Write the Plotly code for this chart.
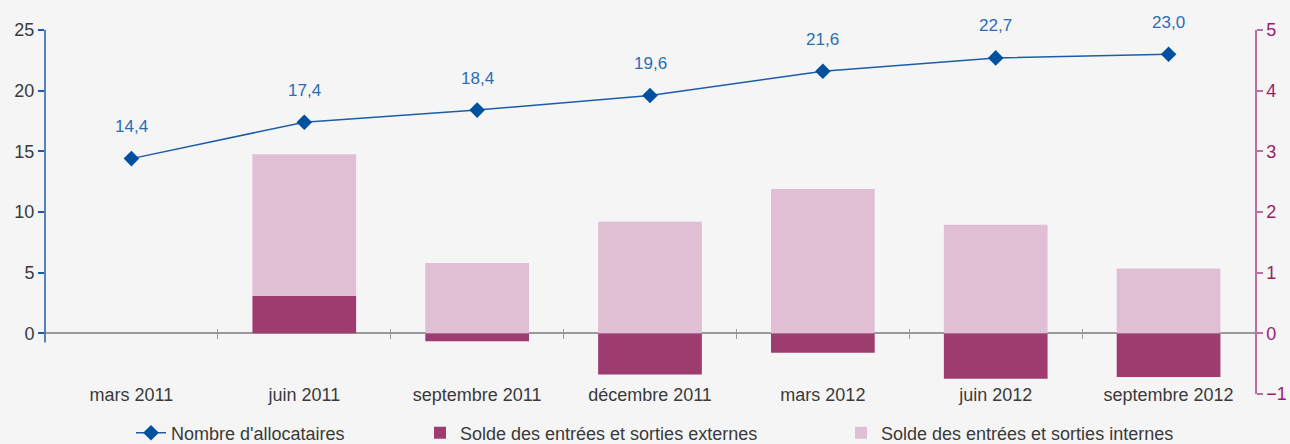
import plotly.graph_objects as go

categories = ["mars 2011", "juin 2011", "septembre 2011", "décembre 2011",
              "mars 2012", "juin 2012", "septembre 2012"]
allocataires = [14.4, 17.4, 18.4, 19.6, 21.6, 22.7, 23.0]
solde_externes = [None, 0.62, -0.13, -0.68, -0.32, -0.75, -0.72]
solde_internes = [None, 2.33, 1.16, 1.84, 2.38, 1.79, 1.07]
left_ticks = [0, 5, 10, 15, 20, 25]
right_ticks = [-1, 0, 1, 2, 3, 4, 5]

FONT = "Liberation Sans, Arial, sans-serif"
TXT = "#3a3a3a"
BLUE = "#1c5ca8"
LBLUE = "#2a6db5"
DARK = "#9e3b6f"
LIGHT = "#e0bfd4"
PURP = "#9b1d6b"
AXP = "#b870a0"
BG = "#f5f5f5"

idx = list(range(len(categories)))
boundaries = [i + 0.5 for i in idx[:-1]]

fig = go.Figure()
fig.add_trace(go.Bar(x=idx, y=solde_externes, name="Solde des entrées et sorties externes",
                     marker=dict(color=DARK, line=dict(width=0)), width=0.6,
                     yaxis="y", legend="legend2"))
fig.add_trace(go.Bar(x=idx, y=solde_internes, name="Solde des entrées et sorties internes",
                     marker=dict(color=LIGHT, line=dict(width=0)), width=0.6,
                     yaxis="y", legend="legend3"))
# invisible helper so that the category-boundary tick axis is drawn
fig.add_trace(go.Scatter(x=idx, y=[0] * len(idx), xaxis="x2", yaxis="y", mode="lines",
                         line=dict(width=0, color="rgba(0,0,0,0)"), opacity=0,
                         showlegend=False, hoverinfo="skip"))
fig.add_trace(go.Scatter(x=idx, y=allocataires, name="Nombre d'allocataires",
                         mode="lines+markers", yaxis="y2", legend="legend",
                         line=dict(color=BLUE, width=1.5),
                         marker=dict(symbol="diamond", size=12, color="#0050a0")))

annotations = []
for i, v in zip(idx, allocataires):
    annotations.append(dict(x=i, y=v, xref="x", yref="y2", yshift=32, showarrow=False,
                            text=f"{v:.1f}".replace(".", ","),
                            font=dict(family=FONT, size=17, color=LBLUE)))

shapes = [dict(type="line", xref="paper", x0=0, x1=0, yref="y2", y0=-0.75, y1=25,
               line=dict(color=BLUE, width=1.5), layer="above")]

legfont = dict(family=FONT, size=18, color=TXT)
legy = 1 - 433 / 444
fig.update_layout(
    width=1290, height=444, autosize=False,
    margin=dict(l=45, r=35, t=30, b=50, pad=0, autoexpand=False),
    paper_bgcolor=BG, plot_bgcolor=BG,
    barmode="relative", bargap=0.4,
    showlegend=True,
    font=dict(family=FONT, size=17, color=TXT),
    xaxis=dict(range=[-0.5, 6.5], tickvals=idx, ticktext=categories,
               showgrid=False, zeroline=False, showline=False, ticks="",
               tickfont=dict(family=FONT, size=18, color=TXT),
               ticklabelstandoff=-12),
    xaxis2=dict(range=[-0.5, 6.5], overlaying="x", anchor="free",
                position=(394 - 328) / 364,
                tickvals=boundaries,
                ticks="outside", ticklen=10, tickcolor="#999999", tickwidth=1,
                showticklabels=False, showgrid=False, zeroline=False, showline=False),
    yaxis=dict(range=[-1, 5], side="right", tickvals=right_ticks,
               showgrid=False, zeroline=True, zerolinecolor="#9a9a9a", zerolinewidth=1.5,
               showline=True, linecolor=AXP, linewidth=1.5,
               ticks="outside", ticklen=6, tickcolor=AXP, tickwidth=1.5,
               tickfont=dict(family=FONT, size=18, color=PURP)),
    yaxis2=dict(range=[-5, 25], side="left", overlaying="y", tickvals=left_ticks,
                showgrid=False, zeroline=False, showline=False,
                ticks="outside", ticklen=6, tickcolor=BLUE, tickwidth=1.5,
                tickfont=dict(family=FONT, size=18, color=TXT)),
    legend=dict(orientation="h", x=(131 - 45) / 1210, xanchor="left", y=legy,
                yref="container", yanchor="middle", bgcolor="rgba(0,0,0,0)", font=legfont),
    legend2=dict(orientation="h", x=(420 - 45) / 1210, xanchor="left", y=legy,
                 yref="container", yanchor="middle", bgcolor="rgba(0,0,0,0)", font=legfont),
    legend3=dict(orientation="h", x=(841 - 45) / 1210, xanchor="left", y=legy,
                 yref="container", yanchor="middle", bgcolor="rgba(0,0,0,0)", font=legfont),
    annotations=annotations,
    shapes=shapes,
)

fig.write_html("out.html", post_script="document.body.style.margin='0';",
               config={"displayModeBar": False})
